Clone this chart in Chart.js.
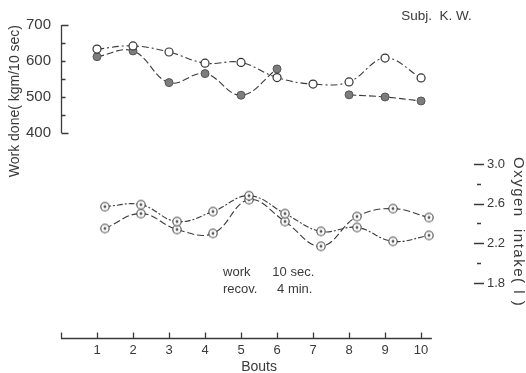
<!DOCTYPE html>
<html>
<head>
<meta charset="utf-8">
<script src="https://cdn.jsdelivr.net/npm/chart.js@4"></script>
<style>
  html, body { margin: 0; padding: 0; background: #fff; }
  #wrap { width: 526px; height: 373px; position: relative; }
</style>
</head>
<body>
<div id="wrap"><canvas id="myChart"></canvas></div>
<script>
// bouts along the bottom
let bouts = [1, 2, 3, 4, 5, 6, 7, 8, 9, 10];

// work done (kgm/10 sec)
let workOpen   = [633, 642, 625, 594, 596, 554, 536, 542, 608, 553];
let workFilled = [612, 628, 540, 565, 505, 578, null, 506, 500, 489];

// oxygen intake (l)
let oxyA = [2.57, 2.59, 2.42, 2.52, 2.68, 2.50, 2.32, 2.36, 2.22, 2.28];
let oxyB = [2.35, 2.50, 2.34, 2.30, 2.64, 2.42, 2.17, 2.47, 2.55, 2.46];

// tick values
let workTicks = [400, 450, 500, 550, 600, 650, 700];
let oxyTicks  = [1.8, 2.0, 2.2, 2.4, 2.6, 2.8, 3.0];

const ink = '#3a3a3a';
const font = "'Liberation Sans', Arial, sans-serif";

// little circle with a dot in it, for the oxygen points
function dotCircle() {
  const c = document.createElement('canvas');
  c.width = 12; c.height = 12;
  const g = c.getContext('2d');
  g.strokeStyle = '#444'; g.lineWidth = 1.1; g.fillStyle = '#fff';
  g.beginPath(); g.arc(6, 6, 4.2, 0, Math.PI * 2); g.fill(); g.stroke();
  g.fillStyle = '#555';
  g.beginPath(); g.arc(6, 6, 1.4, 0, Math.PI * 2); g.fill();
  return c;
}
const dotPt = dotCircle();

function pts(arr) {
  return bouts.map((b, i) => ({ x: b, y: arr[i] }));
}

// hand-drawn looking axes + loose text
const extras = {
  id: 'extras',
  afterDraw(chart) {
    const ctx = chart.ctx;
    const { x, yW, yO } = chart.scales;
    const area = chart.chartArea;
    ctx.save();
    ctx.strokeStyle = ink;
    ctx.lineWidth = 1.3;

    // left axis, only 400..700
    const lx = x.getPixelForValue(0) + 0.5;
    ctx.beginPath();
    ctx.moveTo(lx, yW.getPixelForValue(400));
    ctx.lineTo(lx, yW.getPixelForValue(700));
    workTicks.forEach(v => {
      const y = Math.round(yW.getPixelForValue(v)) + 0.5;
      const len = (v === 400 || v === 700) ? 7 : 4;
      ctx.moveTo(lx, y);
      ctx.lineTo(lx + len, y);
    });
    ctx.stroke();

    // bottom axis
    const by = area.bottom + 0.5;
    ctx.beginPath();
    ctx.moveTo(x.getPixelForValue(0), by);
    ctx.lineTo(x.getPixelForValue(10.3), by);
    [0].concat(bouts).forEach(b => {
      const px = Math.round(x.getPixelForValue(b)) + 0.5;
      ctx.moveTo(px, by);
      ctx.lineTo(px, by - 6);
    });
    ctx.stroke();

    // right axis ticks, no line
    ctx.beginPath();
    oxyTicks.forEach((v, i) => {
      const y = Math.round(yO.getPixelForValue(v)) + 0.5;
      if (i % 2 === 0) {
        ctx.moveTo(area.right, y); ctx.lineTo(area.right + 10, y);
      } else {
        ctx.moveTo(area.right + 3, y); ctx.lineTo(area.right + 7, y);
      }
    });
    ctx.stroke();

    // texts
    ctx.fillStyle = ink;
    ctx.textBaseline = 'middle';
    ctx.textAlign = 'left';
    ctx.font = '13.5px ' + font;
    ctx.fillText('Subj.  K. W.', x.getPixelForValue(9.45), 16);

    ctx.font = '13px ' + font;
    const wx = x.getPixelForValue(4.5);
    ctx.fillText('work', wx, 272);
    ctx.fillText('10 sec.', x.getPixelForValue(5.87), 272);
    ctx.fillText('recov.', wx, 289);
    ctx.fillText('4 min.', x.getPixelForValue(6.0), 289);

    ctx.textAlign = 'center';
    ctx.font = '14px ' + font;
    ctx.fillText('Bouts', x.getPixelForValue(5.5), 367);

    // right axis title, reads top to bottom
    ctx.translate(area.right + 44, yO.getPixelForValue(3.0) - 7);
    ctx.rotate(Math.PI / 2);
    ctx.textAlign = 'left';
    ctx.font = '15px ' + font;
    ctx.letterSpacing = '1.5px';
    ctx.fillText('Oxygen  intake( l )', 0, 0);
    ctx.restore();
  }
};

const options = {
  type: 'line',
  data: {
    datasets: [{
      label: 'work (open)',
      data: pts(workOpen),
      xAxisID: 'x', yAxisID: 'yW',
      borderColor: ink, borderWidth: 1.1,
      borderDash: [7, 3, 2, 3],
      tension: 0.4,
      pointRadius: 4, pointBorderWidth: 1.2,
      pointBackgroundColor: '#fff', pointBorderColor: '#333'
    }, {
      label: 'work (filled)',
      data: pts(workFilled),
      xAxisID: 'x', yAxisID: 'yW',
      borderColor: ink, borderWidth: 1.1,
      borderDash: [7, 3],
      tension: 0.4, spanGaps: false,
      pointRadius: 4, pointBorderWidth: 1,
      pointBackgroundColor: '#7d7d7d', pointBorderColor: '#555'
    }, {
      label: 'O2 a',
      data: pts(oxyA),
      xAxisID: 'x2', yAxisID: 'yO',
      borderColor: ink, borderWidth: 1.1,
      borderDash: [6, 2, 2, 2],
      tension: 0.4,
      pointStyle: dotPt
    }, {
      label: 'O2 b',
      data: pts(oxyB),
      xAxisID: 'x2', yAxisID: 'yO',
      borderColor: ink, borderWidth: 1.1,
      borderDash: [7, 3],
      tension: 0.4,
      pointStyle: dotPt
    }]
  },
  options: {
    responsive: true,
    maintainAspectRatio: false,
    animation: false,
    layout: { padding: { left: 4, top: 25, right: 0, bottom: 0 } },
    plugins: {
      legend: { display: false },
      tooltip: { enabled: false }
    },
    scales: {
      x: {
        type: 'linear', position: 'bottom',
        min: 0, max: 11.47,
        afterBuildTicks: s => { s.ticks = bouts.map(v => ({ value: v })); },
        afterFit: s => { s.height = 35; },
        grid: { display: false, drawTicks: false },
        border: { display: false },
        ticks: { color: ink, font: { family: font, size: 13 }, padding: 5, autoSkip: false, maxRotation: 0 }
      },
      x2: {
        type: 'linear', display: false,
        min: -0.22, max: 11.25
      },
      yW: {
        type: 'linear', position: 'left',
        min: -169.4, max: 700,
        afterBuildTicks: s => { s.ticks = workTicks.map(v => ({ value: v })); },
        afterFit: s => { s.width = 57; },
        grid: { display: false, drawTicks: false },
        border: { display: false },
        ticks: {
          color: ink, font: { family: font, size: 15 }, padding: 10, autoSkip: false,
          callback: v => (v % 100 === 0 ? v : '')
        },
        title: {
          display: true, text: 'Work done( kgm/10 sec)', align: 'end',
          color: ink, font: { family: font, size: 14 }, padding: { top: 3, bottom: 0 }
        }
      },
      yO: {
        type: 'linear', position: 'right',
        min: 1.2456, max: 4.401,
        afterBuildTicks: s => { s.ticks = oxyTicks.map(v => ({ value: v })); },
        afterFit: s => { s.width = 52; },
        grid: { display: false, drawTicks: false },
        border: { display: false },
        ticks: {
          color: ink, font: { family: font, size: 13 }, padding: 13, autoSkip: false,
          callback: (v, i) => (i % 2 === 0 ? Number(v).toFixed(1) : '')
        }
      }
    }
  },
  plugins: [extras]
};

const myChart = new Chart(document.getElementById('myChart'), options);
</script>
</body>
</html>
